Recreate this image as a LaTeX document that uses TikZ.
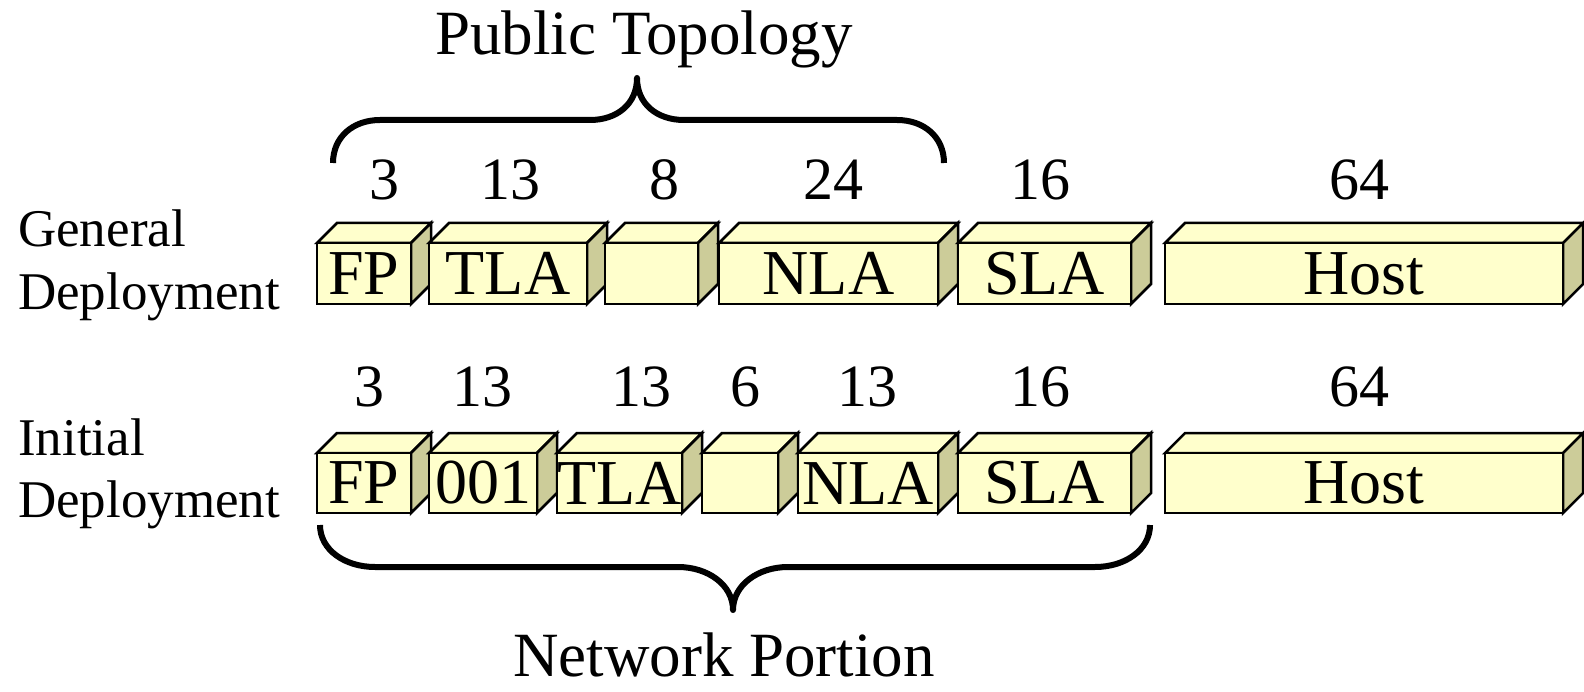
\documentclass[tikz,border=0pt]{standalone}
\usepackage{fontspec}
\setmainfont{Liberation Serif}
\definecolor{frontc}{HTML}{FFFFCC}
\definecolor{sidec}{HTML}{CCCC99}
\tikzset{
 face/.style={draw=black, line width=2.5pt, line join=miter},
 boxtext/.style={font=\fontsize{64}{64}\selectfont, inner sep=0pt, outer sep=0pt},
 numtext/.style={font=\fontsize{60}{60}\selectfont, inner sep=0pt, anchor=base},
 rowtext/.style={font=\fontsize{53}{53}\selectfont, inner sep=0pt, anchor=base west},
 titletext/.style={font=\fontsize{63}{63}\selectfont, inner sep=0pt, anchor=base},
 brace/.style={draw=black, line width=6pt, line join=round},
}
\newcommand{\blk}[6]{%
 \path[face, fill=frontc] (#2,#4) -- (#2+20,#4-20) -- (#3+20,#4-20) -- (#3,#4) -- cycle;
 \path[face, fill=sidec] (#3,#4) -- (#3+20,#4-20) -- (#3+20,#5-20) -- (#3,#5) -- cycle;
 \node[face, fill=frontc, boxtext, minimum width=#3-#2, minimum height=#5-#4, anchor=north west] (#1) at (#2,#4) {#6};
}
\begin{document}
\begin{tikzpicture}[x=1pt, y=-1pt]
\useasboundingbox (0,0) rectangle (1584,692);
% titles
\node[titletext] (pub) at (644,55) {Public Topology};
\node[titletext] (net) at (724,676) {Network Portion};
% row labels
\node[rowtext] (gen1) at (18,247) {General};
\node[rowtext] (gen2) at (18,310) {Deployment};
\node[rowtext] (ini1) at (18,455) {Initial};
\node[rowtext] (ini2) at (18,517) {Deployment};
% numbers top
\node[numtext] (gn1) at (384,200) {3};
\node[numtext] (gn2) at (510,200) {13};
\node[numtext] (gn3) at (664,200) {8};
\node[numtext] (gn4) at (833,200) {24};
\node[numtext] (gn5) at (1040,200) {16};
\node[numtext] (gn6) at (1359,200) {64};
% numbers bottom
\node[numtext] (in1) at (369,406) {3};
\node[numtext] (in2) at (482,406) {13};
\node[numtext] (in3) at (641,406) {13};
\node[numtext] (in4) at (745,406) {6};
\node[numtext] (in5) at (867,406) {13};
\node[numtext] (in6) at (1040,406) {16};
\node[numtext] (in7) at (1359,406) {64};
% general row
\blk{gFP}{317}{411}{243}{304}{FP}
\blk{gTLA}{429}{587}{243}{304}{TLA}
\blk{gE}{605}{698}{243}{304}{}
\blk{gNLA}{719}{938}{243}{304}{NLA}
\blk{gSLA}{958}{1131}{243}{304}{SLA}
\blk{gHost}{1165}{1563}{243}{304}{Host}
% initial row
\blk{iFP}{317}{411}{453}{513}{FP}
\blk{i001}{429}{537}{453}{513}{001}
\blk{iTLA}{557}{682}{453}{513}{TLA}
\blk{iE}{702}{778}{453}{513}{}
\blk{iNLA}{798}{938}{453}{513}{NLA}
\blk{iSLA}{958}{1131}{453}{513}{SLA}
\blk{iHost}{1165}{1563}{453}{513}{Host}
% braces
\draw[brace] (333,163) .. controls (333,137) and (353,120) .. (380,120) -- (590,120) .. controls (617,120) and (637,104) .. (637,78) .. controls (637,104) and (657,120) .. (684,120) -- (897,120) .. controls (924,120) and (944,137) .. (944,163);
\draw[brace] (320,525) .. controls (320,550) and (345,567) .. (375,567) -- (678,567) .. controls (708,567) and (733,585) .. (733,610) .. controls (733,585) and (758,567) .. (788,567) -- (1095,567) .. controls (1125,567) and (1150,550) .. (1150,525);
\end{tikzpicture}
\end{document}
